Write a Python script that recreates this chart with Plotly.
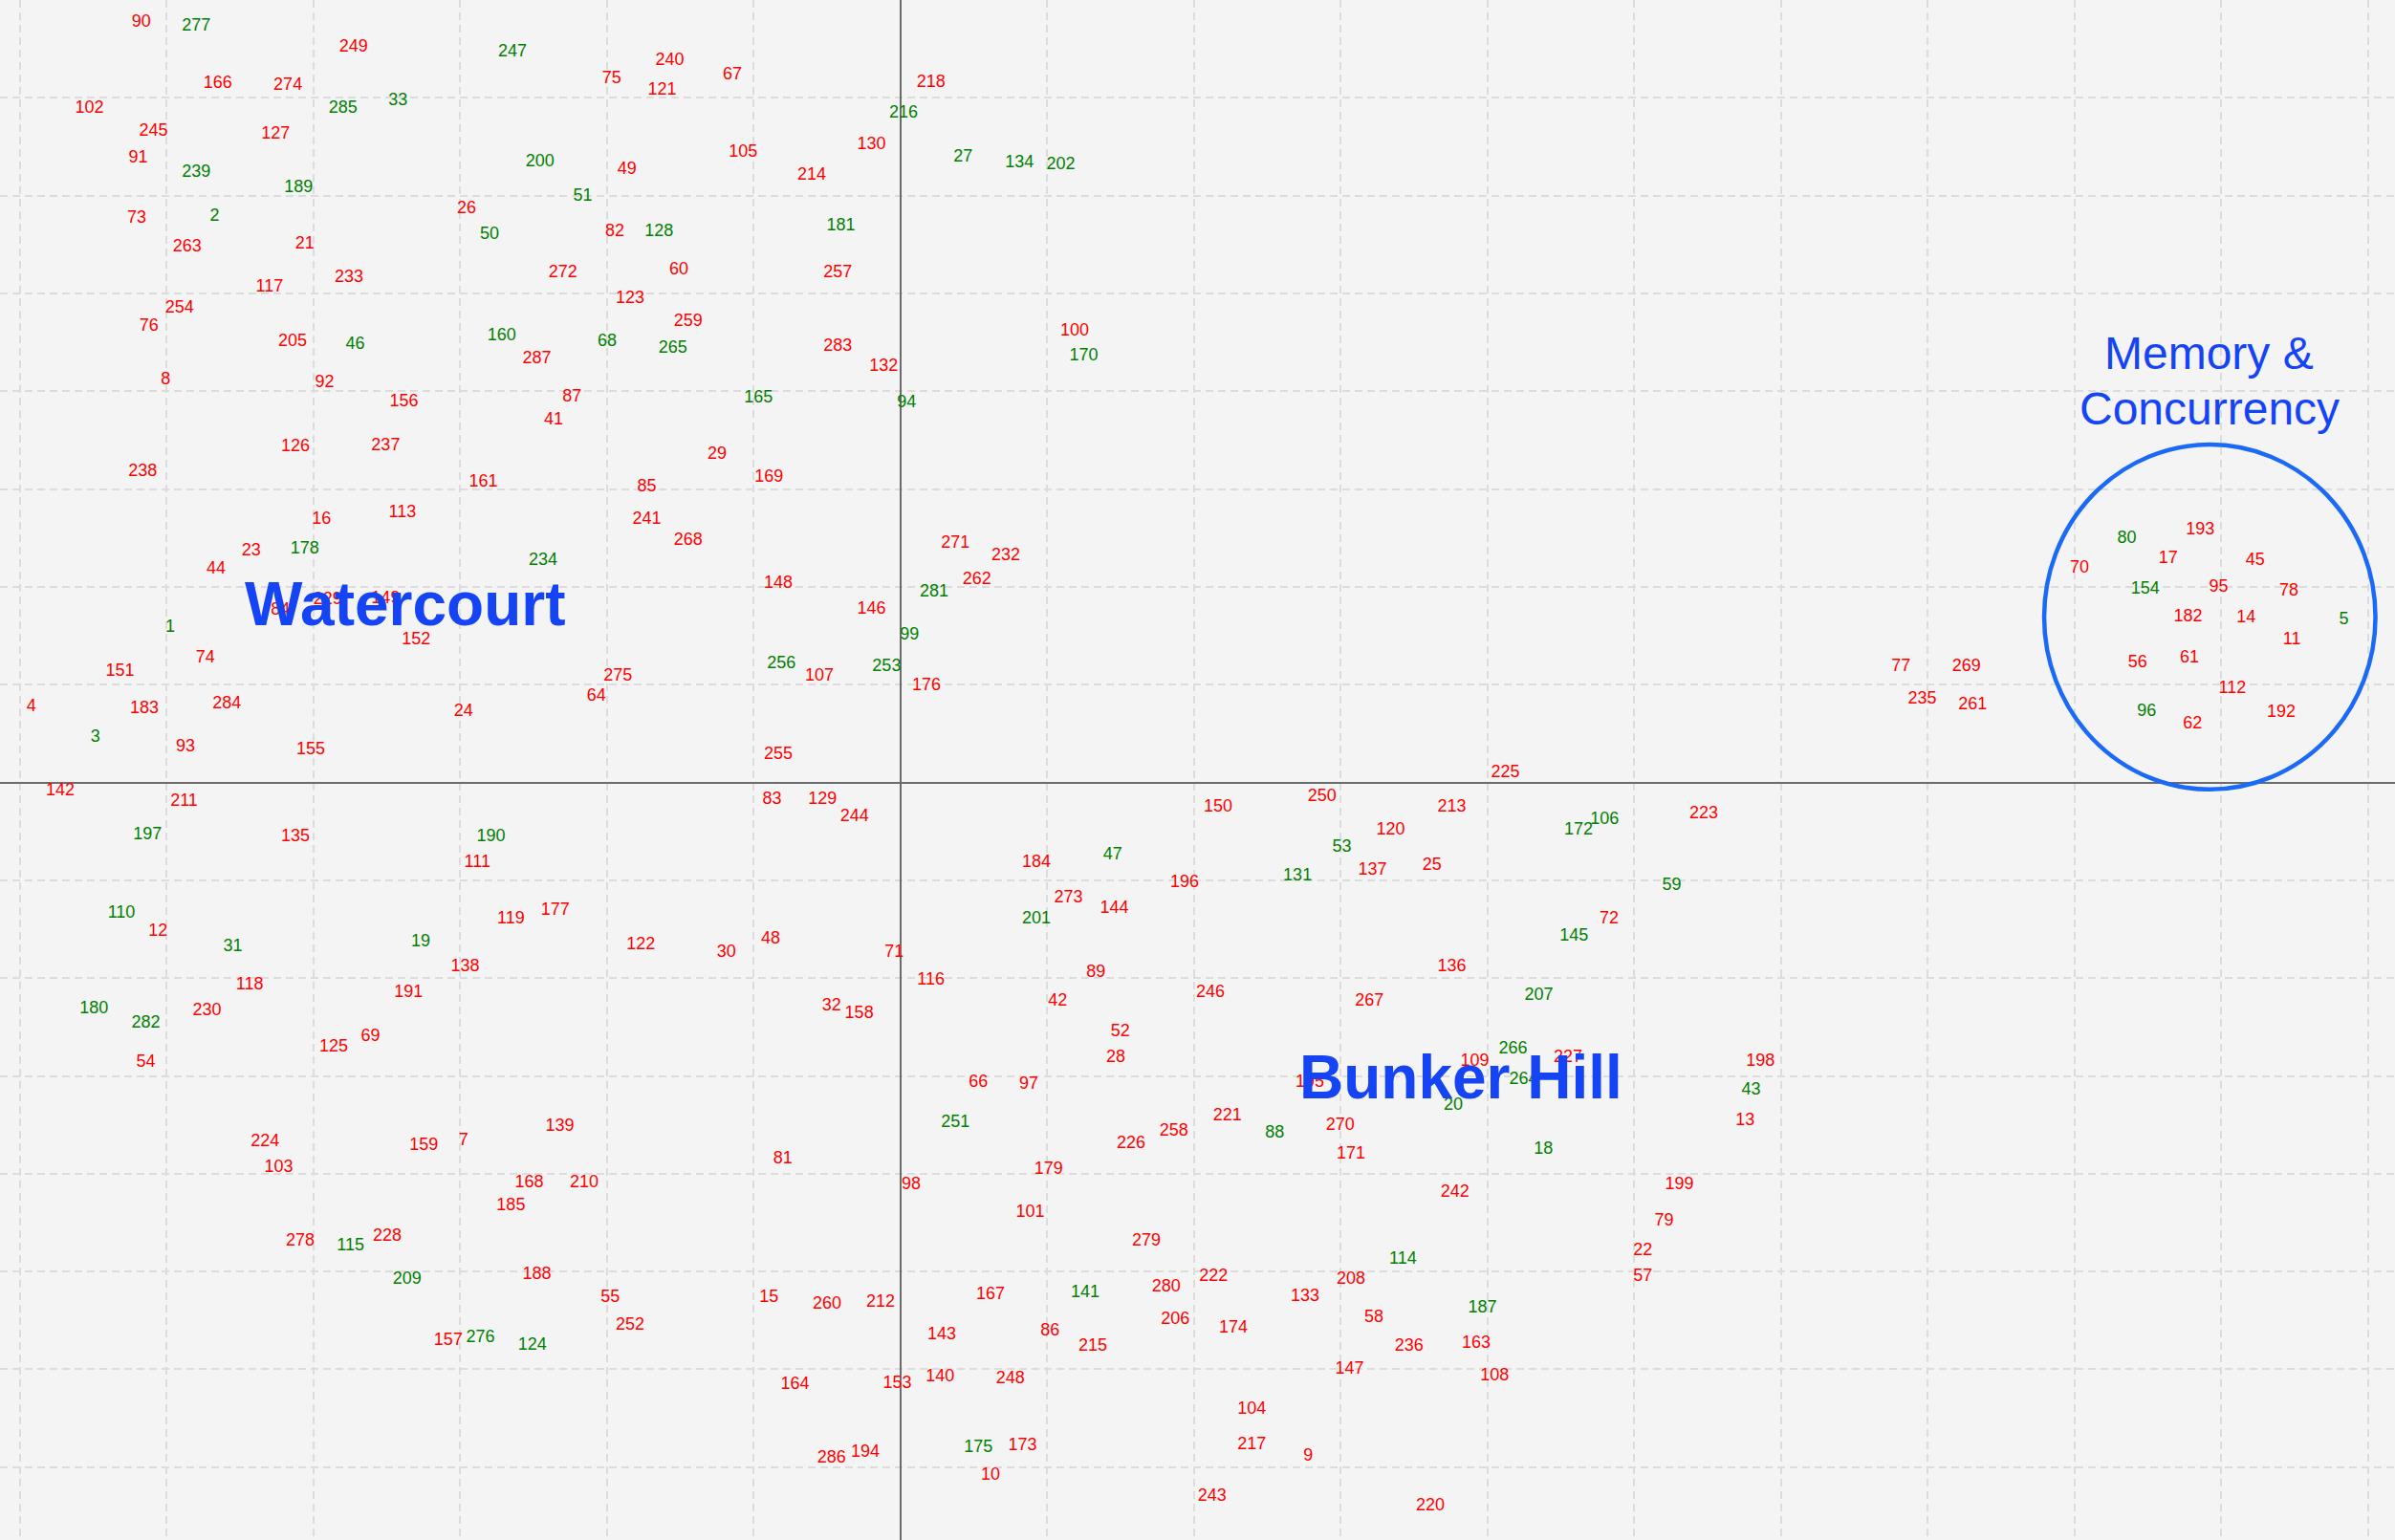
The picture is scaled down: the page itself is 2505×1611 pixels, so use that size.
import plotly.graph_objects as go

# ---- data (x, y in plot units: 1 grid cell = 96.08 x-units, 64.04 y-units) ----
red_labels = [90, 249, 166, 274, 102, 245, 127, 91, 73, 263, 21, 26, 272, 117, 233, 254, 76, 205, 287, 8,
              92, 156, 87, 41, 126, 237, 238, 161, 16, 113,
              75, 240, 121, 67, 218, 130, 105, 49, 214, 82, 60, 257, 123, 259, 283, 132, 100, 29, 169, 85, 241,
              268, 271, 232, 262, 148, 146, 107, 176, 275, 255, 83, 129, 244, 184, 196, 273, 144, 122, 30, 48,
              71, 116, 89, 42, 32, 158, 52,
              23, 44, 229, 149, 84, 152, 74, 151, 4, 183, 284, 24, 64, 93, 155, 142, 211, 135, 111, 12, 119,
              177, 138, 118, 191, 230, 69, 125,
              54, 224, 103, 159, 7, 139, 168, 210, 185, 278, 228, 188, 157,
              28, 66, 97, 258, 226, 81, 179, 98, 101, 279, 280, 55, 15, 260, 212, 167, 206, 252, 143, 86, 215,
              164, 153, 140, 248, 286, 194, 173, 10,
              225, 150, 250, 213, 120, 223, 137, 25, 72, 136, 246, 267,
              109, 227, 198, 195, 221, 13, 270, 171, 242, 199, 79, 22, 222, 208, 57, 133, 58, 174, 236, 163,
              147, 108, 104, 217, 9, 243, 220,
              77, 269, 235, 261, 193, 17, 70, 45, 95, 78, 182, 14, 11, 56, 61, 112, 62, 192]
red_x = [-497, -358, -447, -401, -531, -489, -409, -499, -500, -467, -390, -284, -221, -413, -361, -472, -492, -398, -238, -481,
         -377, -325, -215, -227, -396, -337, -496, -273, -379, -326,
         -189, -151, -156, -110, 20, -19, -103, -179, -58, -187, -145, -41, -177, -139, -41, -11, 114, -120, -86, -166, -166,
         -139, 36, 69, 50, -80, -19, -53, 17, -185, -80, -84, -51, -30, 89, 186, 110, 140, -170, -114, -85,
         -4, 20, 128, 103, -45, -27, 144,
         -425, -448, -375, -337, -406, -317, -455, -511, -569, -495, -441, -286, -199, -468, -386, -550, -469, -396, -277, -486, -255,
         -226, -285, -426, -322, -454, -347, -371,
         -494, -416, -407, -312, -286, -223, -243, -207, -255, -393, -336, -238, -296,
         141, 51, 84, 179, 151, -77, 97, 7, 85, 161, 174, -190, -86, -48, -13, 59, 180, -177, 27, 98, 126,
         -69, -2, 26, 72, -45, -23, 80, 59,
         396, 208, 276, 361, 321, 526, 309, 348, 464, 361, 203, 307,
         376, 437, 563, 268, 214, 553, 288, 295, 363, 510, 500, 486, 205, 295, 486, 265, 310, 218, 333, 377,
         294, 389, 230, 230, 267, 204, 347,
         655, 698, 669, 702, 851, 830, 772, 887, 863, 909, 843, 881, 911, 810, 844, 872, 846, 904]
red_y = [499, 483, 459, 458, 443, 428, 426, 410, 371, 352, 354, 377, 335, 326, 332, 312, 300, 290, 279, 265,
         263, 251, 254, 239, 221, 222, 205, 198, 174, 178,
         462, 474, 455, 465, 460, 419, 414, 403, 399, 362, 337, 335, 318, 303, 287, 274, 297, 216, 201, 195, 174,
         160, 158, 150, 134, 132, 115, 71, 65, 71, 20, -10, -10, -21, -51, -64, -74, -81, -105, -110, -101,
         -110, -128, -123, -142, -145, -150, -162,
         153, 141, 121, 122, 114, 95, 83, 74, 51, 50, 53, 48, 58, 25, 23, -4, -11, -34, -51, -96, -88,
         -82, -119, -131, -136, -148, -165, -172,
         -182, -234, -251, -236, -233, -224, -261, -261, -276, -299, -296, -321, -364,
         -179, -195, -196, -227, -235, -245, -252, -262, -280, -299, -329, -336, -336, -340, -339, -334, -350, -354, -360, -358, -368,
         -393, -392, -388, -389, -441, -437, -433, -452,
         8, -15, -8, -15, -30, -19, -56, -53, -88, -119, -136, -142,
         -181, -179, -181, -195, -217, -220, -223, -242, -267, -262, -286, -305, -322, -324, -322, -335, -349, -356, -368, -366,
         -383, -387, -409, -432, -440, -466, -472,
         77, 77, 56, 52, 167, 148, 142, 147, 129, 127, 110, 109, 95, 80, 83, 63, 40, 47]

green_labels = [277, 247, 285, 33, 239, 189, 200, 51, 2, 50, 46, 160, 216, 27, 134, 202, 128, 181, 68, 265,
                170, 165, 94, 281, 99, 256, 253, 47, 201, 178, 234, 1, 3, 197, 190, 110, 31, 19, 180, 282,
                115, 209, 276, 124, 251, 141, 175, 172, 106, 53, 131, 59, 145, 207, 266, 264, 43, 20, 88, 18,
                114, 187, 80, 154, 5, 96]
green_x = [-461, -254, -365, -329, -461, -394, -236, -208, -449, -269, -357, -261, 2, 41, 78, 105, -158, -39, -192, -149,
           120, -93, 4, 22, 6, -78, -9, 139, 89, -390, -234, -478, -527, -493, -268, -510, -437, -314, -528, -494,
           -360, -323, -275, -241, 36, 121, 51, 444, 461, 289, 260, 505, 441, 418, 401, 408, 557, 362, 245, 421,
           329, 381, 803, 815, 945, 816]
green_y = [497, 480, 443, 448, 401, 391, 408, 385, 372, 360, 288, 294, 440, 411, 407, 406, 362, 366, 290, 286,
           281, 253, 250, 126, 98, 79, 77, -46, -88, 154, 147, 103, 31, -33, -34, -84, -106, -103, -147, -156,
           -302, -324, -362, -367, -221, -333, -434, -30, -23, -41, -60, -66, -99, -138, -173, -193, -200, -210, -228, -239,
           -311, -343, 161, 128, 108, 48]

group_names = ["Watercourt", "Bunker Hill", "Memory &", "Concurrency"]
group_x = [-324.5, 367.1, 856.8, 857.0]
group_y = [117.0, -192.9, 281.0, 245.0]
circle_box = [748.8, -4.5, 965.7, 221.3]  # x0, y0, x1, y1

X_RANGE = [-589.5, 978.5]
Y_RANGE = [-496.0, 512.4]
X_STEP = 96.08
Y_STEP = 64.04
TEXT_BASELINE_NUDGE = -1.5  # font-rendering calibration for number labels

FONT = "Liberation Sans, Arial, Helvetica, sans-serif"
BLUE_TEXT = "#1444f4"
BLUE_RING = "#1a6af7"

fig = go.Figure()
fig.add_trace(go.Scatter(x=red_x, y=[v + TEXT_BASELINE_NUDGE for v in red_y],
                         text=[str(v) for v in red_labels], mode="text",
                         textposition="middle center",
                         textfont=dict(family=FONT, size=18, color="#ff0000"),
                         hoverinfo="skip", showlegend=False))
fig.add_trace(go.Scatter(x=green_x, y=[v + TEXT_BASELINE_NUDGE for v in green_y],
                         text=[str(v) for v in green_labels], mode="text",
                         textposition="middle center",
                         textfont=dict(family=FONT, size=18, color="#008000"),
                         hoverinfo="skip", showlegend=False))

# group labels
for name, gx, gy in zip(group_names, group_x, group_y):
    bold = name in ("Watercourt", "Bunker Hill")
    fig.add_annotation(x=gx, y=gy, xref="x", yref="y", showarrow=False,
                       text=f"<b>{name}</b>" if bold else name,
                       xanchor="center", yanchor="middle",
                       font=dict(family=FONT, size=64 if bold else 48, color=BLUE_TEXT))

fig.add_shape(type="circle", xref="x", yref="y",
              x0=circle_box[0], y0=circle_box[1], x1=circle_box[2], y1=circle_box[3],
              line=dict(color=BLUE_RING, width=4.5), layer="above")

axis_common = dict(showticklabels=False, ticks="", showline=False, showgrid=True,
                   gridcolor="#dcdcdc", gridwidth=1.5, griddash="8px,5px",
                   zeroline=True, zerolinecolor="#6b6b6b", zerolinewidth=2, fixedrange=True)

fig.update_layout(
    width=2505, height=1611,
    margin=dict(l=0, r=0, t=0, b=0, pad=0),
    paper_bgcolor="#f4f4f4", plot_bgcolor="#f4f4f4",
    xaxis=dict(range=X_RANGE, tick0=0, dtick=X_STEP, **axis_common),
    yaxis=dict(range=Y_RANGE, tick0=0, dtick=Y_STEP, **axis_common),
    showlegend=False,
)

fig.write_html("out.html", config={"displayModeBar": False},
               post_script="document.body.style.margin='0';document.body.style.overflow='hidden';")
